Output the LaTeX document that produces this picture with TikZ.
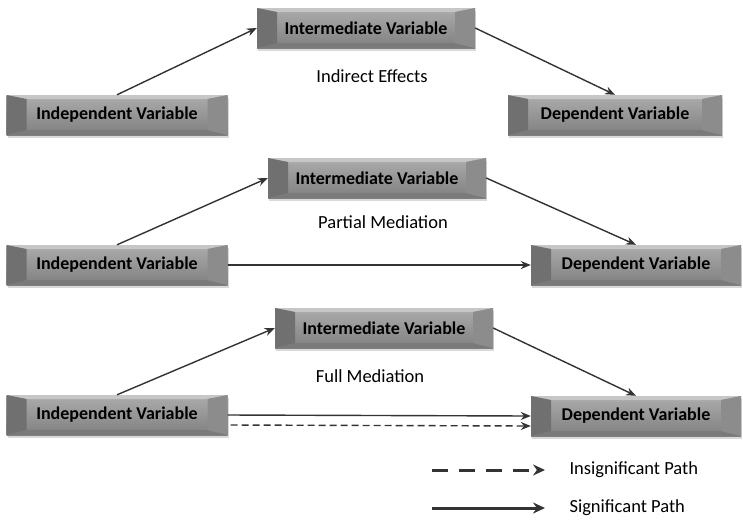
\documentclass[tikz,border=0pt]{standalone}
\usepackage{fontspec}
\setmainfont{Carlito}
\usepackage{tikz}
\usetikzlibrary{shadows, arrows, arrows.meta}
\tikzstyle{arrow} = [line width=1.4pt, draw=black!80, -{Stealth[length=10pt,width=8pt]}]
\tikzstyle{legarrow} = [line width=3pt, draw=black!80, -{Stealth[length=12pt,width=11pt]}]
\tikzstyle{varbox} = [minimum height=40pt, inner sep=0pt,
  font=\fontsize{18}{20}\selectfont\bfseries,
  drop shadow={opacity=0.3, shadow xshift=1pt, shadow yshift=-3pt},
  top color=gray!65, bottom color=black!50,
  path picture={
    % bevel edges
    \fill[gray!45] (path picture bounding box.north west) -- (path picture bounding box.north east)
      -- ([xshift=-20pt,yshift=-4pt]path picture bounding box.north east)
      -- ([xshift=20pt,yshift=-4pt]path picture bounding box.north west) -- cycle;
    \fill[black!52] (path picture bounding box.south west) -- (path picture bounding box.south east)
      -- ([xshift=-20pt,yshift=5pt]path picture bounding box.south east)
      -- ([xshift=20pt,yshift=5pt]path picture bounding box.south west) -- cycle;
    \fill[black!56] (path picture bounding box.north west) -- ([xshift=20pt,yshift=-4pt]path picture bounding box.north west)
      -- ([xshift=20pt,yshift=5pt]path picture bounding box.south west) -- (path picture bounding box.south west) -- cycle;
    \fill[gray!90] (path picture bounding box.north east) -- ([xshift=-20pt,yshift=-4pt]path picture bounding box.north east)
      -- ([xshift=-20pt,yshift=5pt]path picture bounding box.south east) -- (path picture bounding box.south east) -- cycle;
  }]
\tikzstyle{caption} = [font=\fontsize{18.5}{20}\selectfont]

\begin{document}
\begin{tikzpicture}[x=1pt,y=-1pt]
  \useasboundingbox (0,0) rectangle (743,520);

  % Indirect effects
  \node[varbox, minimum width=221pt] (iva) at (117,115) {Independent Variable};
  \node[varbox, minimum width=218pt] (ima) at (366,28) {Intermediate Variable};
  \node[varbox, minimum width=214pt] (dva) at (615,115) {Dependent Variable};
  \node[caption] (capa) at (372,76) {Indirect Effects};
  \draw[arrow] (iva.north) -- (ima.west);
  \draw[arrow] (ima.east) -- (dva.north);

  % Partial mediation
  \node[varbox, minimum width=221pt] (ivb) at (117,265) {Independent Variable};
  \node[varbox, minimum width=218pt] (imb) at (377,178) {Intermediate Variable};
  \node[varbox, minimum width=210pt] (dvb) at (636,265) {Dependent Variable};
  \node[caption] (capb) at (383,222) {Partial Mediation};
  \draw[arrow] (ivb.north) -- (imb.west);
  \draw[arrow] (imb.east) -- (dvb.north);
  \draw[arrow] (ivb.east) -- (dvb.west);

  % Full mediation
  \node[varbox, minimum width=221pt] (ivc) at (117,415) {Independent Variable};
  \node[varbox, minimum width=218pt] (imc) at (384,328) {Intermediate Variable};
  \node[varbox, minimum width=210pt] (dvc) at (636,416) {Dependent Variable};
  \node[caption] (capc) at (370,376) {Full Mediation};
  \draw[arrow] (ivc.north) -- (imc.west);
  \draw[arrow] (imc.east) -- (dvc.north);
  \draw[arrow] (ivc.east) -- (dvc.west);
  \draw[arrow, dash pattern=on 7pt off 4pt] ([yshift=-10pt,xshift=3pt]ivc.east) -- ([yshift=-10pt]dvc.west);

  % Legenda
  \coordinate (ia) at (432,470);
  \coordinate (ib) at (545,470);
  \coordinate (sa) at (432,508);
  \coordinate (sb) at (545,508);
  \draw[legarrow, dash pattern=on 16pt off 11pt] (ia) -- (ib);
  \draw[legarrow] (sa) -- (sb);
  \node[caption, anchor=west] (insig) at (566,470) {Insignificant Path};
  \node[caption, anchor=west] (sig) at (566,508) {Significant Path};
\end{tikzpicture}
\end{document}
